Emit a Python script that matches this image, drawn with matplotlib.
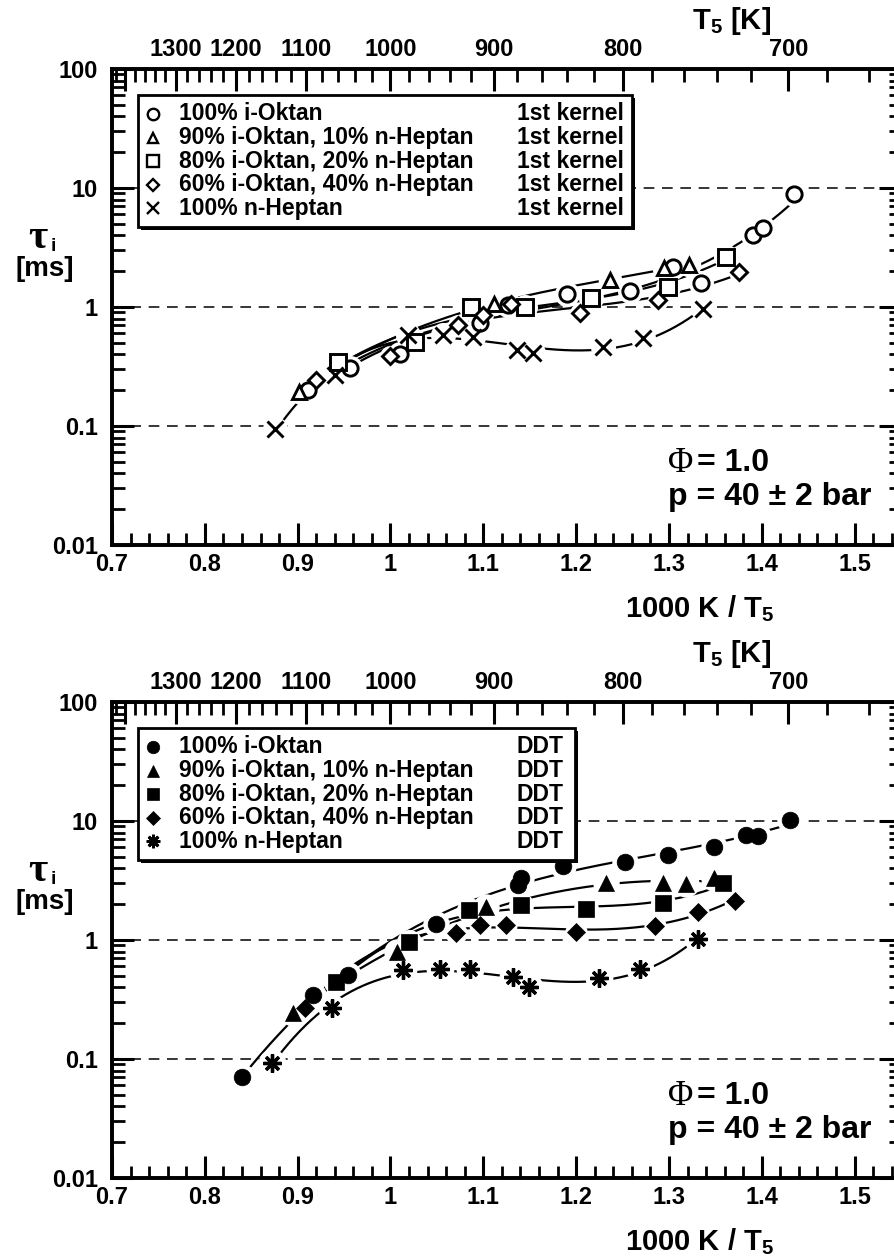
import numpy as np
import matplotlib
matplotlib.use('Agg')
import matplotlib.pyplot as plt
from matplotlib.patches import Rectangle

plt.rcParams['font.family'] = ['Liberation Sans', 'DejaVu Sans']
plt.rcParams['font.weight'] = 'bold'
plt.rcParams['mathtext.fontset'] = 'custom'
plt.rcParams['mathtext.rm'] = 'Liberation Sans:bold'
plt.rcParams['mathtext.it'] = 'Liberation Sans:bold'
plt.rcParams['mathtext.bf'] = 'Liberation Sans:bold'
plt.rcParams['mathtext.default'] = 'rm'

fuels = ['100% i-Oktan', '90% i-Oktan, 10% n-Heptan', '80% i-Oktan, 20% n-Heptan',
         '60% i-Oktan, 40% n-Heptan', '100% n-Heptan']

# first kernel ignition delays (1000K/T5, tau in ms)
k_io100_x = [0.911, 0.956, 1.010, 1.096, 1.127, 1.190, 1.258, 1.304, 1.335, 1.391, 1.401, 1.435]
k_io100_y = [0.20, 0.305, 0.40, 0.73, 1.04, 1.29, 1.35, 2.18, 1.58, 4.03, 4.58, 8.9]
k_io90_x = [0.901, 1.111, 1.236, 1.295, 1.322]
k_io90_y = [0.194, 1.07, 1.69, 2.11, 2.25]
k_io80_x = [0.944, 1.026, 1.087, 1.145, 1.216, 1.299, 1.362]
k_io80_y = [0.343, 0.51, 1.0, 1.0, 1.18, 1.48, 2.65]
k_io60_x = [0.920, 1.000, 1.073, 1.100, 1.130, 1.204, 1.288, 1.376]
k_io60_y = [0.244, 0.39, 0.706, 0.857, 1.06, 0.89, 1.14, 1.98]
k_nh_x = [0.876, 0.940, 1.019, 1.057, 1.089, 1.136, 1.154, 1.229, 1.272, 1.337]
k_nh_y = [0.094, 0.268, 0.582, 0.58, 0.563, 0.435, 0.408, 0.464, 0.546, 0.956]

# DDT ignition delays
d_io100_x = [0.840, 0.917, 0.954, 1.049, 1.137, 1.141, 1.186, 1.253, 1.299, 1.349, 1.383, 1.396, 1.430]
d_io100_y = [0.070, 0.345, 0.508, 1.36, 2.90, 3.3, 4.19, 4.55, 5.18, 6.08, 7.62, 7.48, 10.2]
d_io90_x = [0.895, 1.007, 1.103, 1.232, 1.294, 1.318, 1.349]
d_io90_y = [0.242, 0.80, 1.90, 3.0, 3.0, 2.96, 3.3]
d_io80_x = [0.941, 1.020, 1.085, 1.141, 1.211, 1.294, 1.358]
d_io80_y = [0.447, 0.97, 1.79, 1.97, 1.81, 2.06, 2.99]
d_io60_x = [0.908, 1.071, 1.096, 1.125, 1.200, 1.285, 1.331, 1.371]
d_io60_y = [0.268, 1.15, 1.34, 1.34, 1.17, 1.31, 1.73, 2.14]
d_nh_x = [0.872, 0.937, 1.014, 1.053, 1.086, 1.132, 1.149, 1.225, 1.269, 1.331]
d_nh_y = [0.092, 0.267, 0.56, 0.567, 0.567, 0.49, 0.40, 0.476, 0.567, 1.02]

T_major = [700, 800, 900, 1000, 1100, 1200, 1300, 1400]
T_labels = ['700', '800', '900', '1000', '1100', '1200', '1300', '']
T_minor = list(range(660, 1440, 20))

star = (8, 2, 0)
open_styles = [dict(marker='o', ms=11), dict(marker='^', ms=10), dict(marker='s', ms=11),
               dict(marker='D', ms=8), dict(marker='x', ms=11)]
fill_styles = [dict(marker='o', ms=12), dict(marker='^', ms=12), dict(marker='s', ms=11),
               dict(marker='D', ms=9), dict(marker=star, ms=13)]

TICK_FS = 17


def draw_series(ax, x, y, style, filled, deg):
    x = np.asarray(x)
    y = np.asarray(y)
    c = np.polyfit(x, np.log10(y), deg)
    xs = np.linspace(x.min(), x.max(), 300)
    ax.plot(xs, 10 ** np.polyval(c, xs), color='k', lw=1.6, zorder=2)
    # white halo around each symbol leaves a gap in the curve
    ax.plot(x, y, ls='none', marker='o', ms=style['ms'] + 7, mfc='white', mec='white', mew=0, zorder=3)
    if filled:
        ax.plot(x, y, ls='none', marker=style['marker'], ms=style['ms'], mfc='k', mec='k',
                mew=2.4 if style['marker'] == star else 0.5, zorder=4)
    else:
        ax.plot(x, y, ls='none', marker=style['marker'], ms=style['ms'], mfc='white', mec='k',
                mew=2.1, zorder=4)


def setup_axes(ax):
    ax.set_yscale('log')
    ax.set_xlim(0.7, 1.55)
    ax.set_ylim(0.01, 100)
    for s in ax.spines.values():
        s.set_linewidth(2.6)
    ax.set_xticks(np.arange(0.7, 1.51, 0.1))
    ax.set_xticklabels(['0.7', '0.8', '0.9', '1', '1.1', '1.2', '1.3', '1.4', '1.5'])
    ax.set_xticks(np.arange(0.72, 1.55, 0.02), minor=True)
    ax.set_yticks([0.01, 0.1, 1, 10, 100])
    ax.set_yticklabels(['0.01', '0.1', '1', '10', '100'])
    minor = [m * 10.0 ** e for e in range(-2, 2) for m in range(2, 10)]
    ax.set_yticks(minor, minor=True)
    ax.yaxis.set_minor_formatter(matplotlib.ticker.NullFormatter())
    ax.tick_params(which='both', direction='in', top=False, right=True, labelsize=TICK_FS)
    ax.tick_params(which='major', length=16, width=2.2)
    ax.tick_params(which='minor', length=9, width=2.0)
    ax.tick_params(axis='y', pad=10)
    ax.tick_params(axis='x', pad=6)
    for v in [0.1, 1, 10]:
        ax.axhline(v, color='k', lw=1.1, dashes=(7, 5), zorder=1)

    top = ax.twiny()
    top.set_xlim(ax.get_xlim())
    top.set_xticks([1000.0 / t for t in T_major])
    top.set_xticklabels(T_labels)
    top.set_xticks([1000.0 / t for t in T_minor], minor=True)
    top.tick_params(which='both', direction='in', labelsize=TICK_FS, pad=6)
    top.tick_params(which='major', length=16, width=2.2)
    top.tick_params(which='minor', length=9, width=2.0)
    for s in top.spines.values():
        s.set_linewidth(2.6)
    top.text(0.785, 1.1, r'$\mathrm{T}_5$ [K]', transform=ax.transAxes, ha='center', va='center',
             fontsize=21)

    ax.text(0.745, -0.133, r'1000 K / $\mathrm{T}_5$', transform=ax.transAxes, ha='center',
            va='center', fontsize=21)
    ax.text(-0.094, 0.645, '\u03c4', transform=ax.transAxes, ha='center', va='center',
            fontsize=30, family='Liberation Serif', weight='bold')
    ax.text(-0.078, 0.628, 'i', transform=ax.transAxes, ha='left', va='center', fontsize=14)
    ax.text(-0.085, 0.58, '[ms]', transform=ax.transAxes, ha='center', va='center', fontsize=20)

    ax.text(0.705, 0.172, '\u03a6', transform=ax.transAxes, ha='left', va='center',
            fontsize=25, family='Liberation Serif', weight='normal')
    ax.text(0.742, 0.172, '= 1.0', transform=ax.transAxes, ha='left', va='center', fontsize=23)
    ax.text(0.705, 0.101, 'p = 40 \u00b1 2 bar', transform=ax.transAxes, ha='left', va='center',
            fontsize=23)


def draw_legend(ax, styles, filled, tag, right):
    box_top, box_bot = 0.9454, 0.668
    ax.add_patch(Rectangle((0.037, box_bot - 0.006), right - 0.033, box_top - box_bot,
                           transform=ax.transAxes, fc='k', ec='none', zorder=5))
    ax.add_patch(Rectangle((0.033, box_bot), right - 0.033, box_top - box_bot,
                           transform=ax.transAxes, fc='white', ec='k', lw=2.0, zorder=6))
    rows = [0.9055, 0.856, 0.8065, 0.757, 0.7075]
    for name, st, yy in zip(fuels, styles, rows):
        ms = st['ms'] * 0.75
        if filled:
            ax.plot([0.052], [yy], transform=ax.transAxes, ls='none', marker=st['marker'], ms=ms,
                    mfc='k', mec='k', mew=2.0 if st['marker'] == star else 0.5, zorder=7,
                    clip_on=False)
        else:
            ax.plot([0.052], [yy], transform=ax.transAxes, ls='none', marker=st['marker'], ms=ms,
                    mfc='white', mec='k', mew=1.7, zorder=7, clip_on=False)
        ax.text(0.085, yy, name, transform=ax.transAxes, ha='left', va='center', fontsize=16.5,
                zorder=7)
        ax.text(0.513, yy, tag, transform=ax.transAxes, ha='left', va='center', fontsize=16.5,
                zorder=7)


fig = plt.figure(figsize=(8.95, 12.58), dpi=100)
ax1 = fig.add_axes([0.12514, 0.56677, 0.88156, 0.37838])
ax2 = fig.add_axes([0.12514, 0.06359, 0.88156, 0.37838])

for ax in (ax1, ax2):
    setup_axes(ax)

draw_series(ax1, k_io100_x, k_io100_y, open_styles[0], False, 3)
draw_series(ax1, k_io90_x, k_io90_y, open_styles[1], False, 3)
draw_series(ax1, k_io80_x, k_io80_y, open_styles[2], False, 3)
draw_series(ax1, k_io60_x, k_io60_y, open_styles[3], False, 3)
draw_series(ax1, k_nh_x, k_nh_y, open_styles[4], False, 4)
draw_legend(ax1, open_styles, False, '1st kernel', 0.659)

draw_series(ax2, d_io100_x, d_io100_y, fill_styles[0], True, 3)
draw_series(ax2, d_io90_x, d_io90_y, fill_styles[1], True, 3)
draw_series(ax2, d_io80_x, d_io80_y, fill_styles[2], True, 3)
draw_series(ax2, d_io60_x, d_io60_y, fill_styles[3], True, 4)
draw_series(ax2, d_nh_x, d_nh_y, fill_styles[4], True, 4)
draw_legend(ax2, fill_styles, True, 'DDT', 0.587)

fig.savefig('out.png', dpi=100)
